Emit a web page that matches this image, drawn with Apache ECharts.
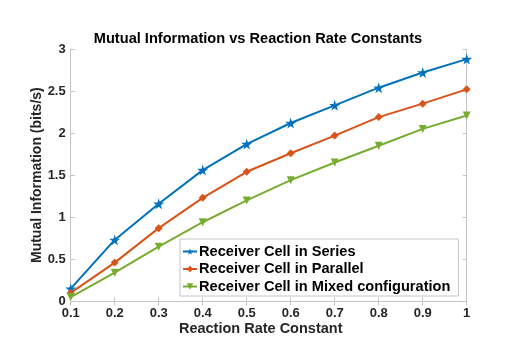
<!DOCTYPE html>
<html>
<head>
<meta charset="utf-8">
<script src="https://cdn.jsdelivr.net/npm/echarts@6/dist/echarts.min.js"></script>
<style>
  html, body { margin: 0; padding: 0; background: #fff; }
  #chart { width: 509px; height: 360px; }
</style>
</head>
<body>
<div id="chart"></div>
<script>
// reaction rate constants (x)
const rates = [0.1, 0.2, 0.3, 0.4, 0.5, 0.6, 0.7, 0.8, 0.9, 1.0];
// mutual information (bits/s)
const series_ = [0.15, 0.73, 1.16, 1.56, 1.87, 2.12, 2.33, 2.54, 2.72, 2.88];
const parallel = [0.10, 0.46, 0.87, 1.23, 1.54, 1.76, 1.97, 2.19, 2.35, 2.52];
const mixed = [0.05, 0.34, 0.65, 0.94, 1.20, 1.44, 1.65, 1.85, 2.05, 2.21];

const names = [
  "Receiver Cell in Series",
  "Receiver Cell in Parallel",
  "Receiver Cell in Mixed configuration",
];

const FONT = "Liberation Sans, Arial, sans-serif";
const AXIS_GRAY = "#c4c4c4";
const TEXT = "#262626";

const star = "path://M50,0 L61,35 L98,35 L68,57 L79,91 L50,70 L21,91 L32,57 L2,35 L39,35 Z";
const downTri = "path://M0,0 L10,0 L5,9 Z";

function pairs(ys) {
  return rates.map((x, i) => [x, ys[i]]);
}

let myChart = echarts.init(document.getElementById("chart"));

function lineSeries(name, ys, color, symbol, size) {
  return {
    name: name,
    type: "line",
    data: pairs(ys),
    symbol: symbol,
    symbolSize: size,
    showSymbol: true,
    lineStyle: { color: color, width: 2 },
    itemStyle: { color: color },
    z: 3,
  };
}

let option = {
  animation: false,
  textStyle: { fontFamily: FONT },
  title: {
    text: "Mutual Information vs Reaction Rate Constants",
    left: 253,
    textAlign: "center",
    top: 26,
    textStyle: { fontSize: 14.6, fontWeight: "bold", color: "#000", fontFamily: FONT },
  },
  grid: { left: 70.7, right: 42.3, top: 49, bottom: 58.7 },
  legend: {
    orient: "vertical",
    left: 180,
    top: 239,
    data: names,
    backgroundColor: "#fff",
    borderColor: "#c4c4c4",
    borderWidth: 1,
    padding: [5, 8, 2, 2],
    itemGap: 2.5,
    itemWidth: 14,
    itemHeight: 8,
    textStyle: { fontSize: 14.6, fontWeight: "bold", color: "#000", fontFamily: FONT, padding: [0, 0, 0, -3] },
  },
  xAxis: [
    {
      type: "value",
      min: 0.1,
      max: 1,
      interval: 0.1,
      name: "Reaction Rate Constant",
      nameLocation: "middle",
      nameGap: 20,
      nameMoveOverlap: false,
      nameTextStyle: { fontSize: 14.5, fontWeight: "bold", color: TEXT, fontFamily: FONT, padding: [0, 16, 0, 0] },
      axisLine: { lineStyle: { color: AXIS_GRAY, width: 1 } },
      axisTick: { inside: true, length: 4, lineStyle: { color: AXIS_GRAY } },
      axisLabel: {
        fontSize: 13,
        fontWeight: "bold",
        color: TEXT,
        margin: 6,
        formatter: (v) => String(+v.toFixed(1)),
      },
      splitLine: { show: false },
    },
    {
      type: "value",
      position: "top",
      min: 0.1,
      max: 1,
      interval: 0.1,
      axisLine: { lineStyle: { color: AXIS_GRAY, width: 1 } },
      axisTick: { inside: true, length: 4, lineStyle: { color: AXIS_GRAY } },
      axisLabel: { show: false },
      splitLine: { show: false },
    },
  ],
  yAxis: [
    {
      type: "value",
      min: 0,
      max: 3,
      interval: 0.5,
      name: "Mutual Information (bits/s)",
      nameLocation: "middle",
      nameGap: 27,
      nameMoveOverlap: false,
      nameTextStyle: { fontSize: 14, fontWeight: "bold", color: TEXT, fontFamily: FONT },
      axisLine: { show: true, lineStyle: { color: AXIS_GRAY, width: 1 } },
      axisTick: { show: true, inside: true, length: 4, lineStyle: { color: AXIS_GRAY } },
      axisLabel: { fontSize: 13, fontWeight: "bold", color: TEXT, margin: 5 },
      splitLine: { show: false },
    },
    {
      type: "value",
      position: "right",
      min: 0,
      max: 3,
      interval: 0.5,
      axisLine: { show: true, lineStyle: { color: AXIS_GRAY, width: 1 } },
      axisTick: { show: true, inside: true, length: 4, lineStyle: { color: AXIS_GRAY } },
      axisLabel: { show: false },
      splitLine: { show: false },
    },
  ],
  series: [
    lineSeries(names[0], series_, "#0072BD", star, 11),
    lineSeries(names[1], parallel, "#D95319", "diamond", 8),
    lineSeries(names[2], mixed, "#77AC30", downTri, 8),
  ],
};

myChart.setOption(option);
</script>
</body>
</html>
